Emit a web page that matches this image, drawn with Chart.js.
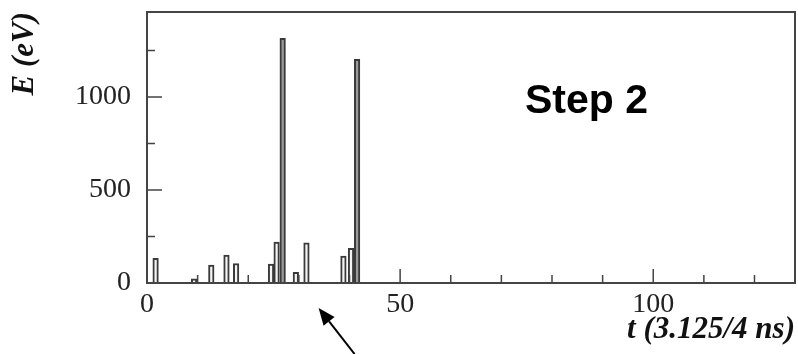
<!DOCTYPE html>
<html>
<head>
<meta charset="utf-8">
<script src="https://cdn.jsdelivr.net/npm/chart.js@4.4.1/dist/chart.umd.min.js"></script>
<style>
  html, body { margin: 0; padding: 0; background: #fff; }
</style>
</head>
<body>
<canvas id="hist" width="798" height="354"></canvas>
<script>
// bin centres (t in 3.125/4 ns units) and deposited energy in eV
const binT = [1.7, 9.3, 12.7, 15.7, 17.6, 24.5, 25.6, 26.8, 29.4, 31.5, 38.8, 40.3, 41.5];
const energy = [133, 22, 97, 150, 105, 102, 220, 1315, 58, 216, 145, 187, 1203];

const xTickLabels = [0, 50, 100];
const xMinorTicks = [10, 20, 30, 40, 60, 70, 80, 90, 110, 120];
const yTickLabels = [0, 500, 1000];
const yMinorTicks = [250, 750, 1250];

const stepLabel = 'Step 2';
const stepLabelAt = [86.8, 914];   // t, E
const arrowFromT = 41;
const arrowToT = 33.9;

const serif = '"Liberation Serif", "Times New Roman", serif';

// frame, inside tick marks, the "Step 2" note and the arrow
const frameAndNotes = {
    id: 'frameAndNotes',
    afterDraw(chart) {
        const { ctx, chartArea: a, scales: { x, y } } = chart;
        ctx.save();
        ctx.strokeStyle = '#444';
        ctx.lineWidth = 2;
        ctx.strokeRect(a.left, a.top, a.right - a.left, a.bottom - a.top);

        ctx.lineWidth = 1.5;
        ctx.beginPath();
        xTickLabels.concat(xMinorTicks).forEach(v => {
            const px = x.getPixelForValue(v);
            const len = xTickLabels.includes(v) ? 14 : 8;
            ctx.moveTo(px, a.bottom);
            ctx.lineTo(px, a.bottom - len);
        });
        yTickLabels.concat(yMinorTicks).forEach(v => {
            const py = y.getPixelForValue(v);
            const len = yTickLabels.includes(v) ? 15 : 8;
            ctx.moveTo(a.left, py);
            ctx.lineTo(a.left + len, py);
        });
        ctx.stroke();

        ctx.font = 'bold 41px "Liberation Sans", Arial, sans-serif';
        ctx.fillStyle = '#000';
        ctx.textAlign = 'center';
        ctx.textBaseline = 'alphabetic';
        ctx.fillText(stepLabel, x.getPixelForValue(stepLabelAt[0]), y.getPixelForValue(stepLabelAt[1]));

        // arrow pointing up-left at the axis
        const x0 = x.getPixelForValue(arrowFromT), y0 = chart.height;
        const x1 = x.getPixelForValue(arrowToT), y1 = a.bottom + 25;
        const ang = Math.atan2(y1 - y0, x1 - x0);
        const headLen = 17, headW = 7;
        const bx = x1 - headLen * Math.cos(ang), by = y1 - headLen * Math.sin(ang);
        ctx.strokeStyle = '#000';
        ctx.lineWidth = 2;
        ctx.beginPath();
        ctx.moveTo(x0, y0);
        ctx.lineTo(bx, by);
        ctx.stroke();
        ctx.beginPath();
        ctx.moveTo(x1, y1);
        ctx.lineTo(bx + headW * Math.sin(ang), by - headW * Math.cos(ang));
        ctx.lineTo(bx - headW * Math.sin(ang), by + headW * Math.cos(ang));
        ctx.closePath();
        ctx.fill();
        ctx.restore();
    }
};

function fixBox(w, h) {
    return scale => {
        if (w) scale.width = w;
        if (h) scale.height = h;
        scale.paddingTop = 0;
        scale.paddingBottom = 0;
        scale.paddingLeft = 0;
        scale.paddingRight = 0;
    };
}

new Chart(document.getElementById('hist'), {
    type: 'bar',
    data: {
        datasets: [{
            data: binT.map((t, i) => ({ x: t, y: energy[i] })),
            backgroundColor: ctx => (ctx.raw && ctx.raw.y > 1000) ? '#9a9a9a' : '#f4f4f4',
            borderColor: '#3a3a3a',
            borderWidth: 2,
            categoryPercentage: 1,
            barPercentage: 1
        }]
    },
    options: {
        responsive: false,
        animation: false,
        layout: { padding: { top: 12, right: 3, left: 0, bottom: 0 } },
        plugins: {
            legend: { display: false },
            tooltip: { enabled: false }
        },
        scales: {
            x: {
                type: 'linear',
                min: 0,
                max: 128,
                offset: false,
                grid: { display: false, drawTicks: false },
                border: { display: false },
                afterBuildTicks: scale => { scale.ticks = xTickLabels.map(v => ({ value: v })); },
                afterFit: fixBox(0, 71),
                ticks: {
                    padding: 5,
                    maxRotation: 0,
                    color: '#222',
                    font: { family: serif, size: 28 },
                    callback: v => String(v)
                },
                title: {
                    display: true,
                    text: 't (3.125/4 ns)',
                    align: 'end',
                    color: '#111',
                    padding: { top: 0, bottom: 5 },
                    font: { family: serif, size: 31, style: 'italic', weight: 'bold' }
                }
            },
            y: {
                min: 0,
                max: 1457,
                grid: { display: false, drawTicks: false },
                border: { display: false },
                afterBuildTicks: scale => { scale.ticks = yTickLabels.map(v => ({ value: v })); },
                afterFit: fixBox(147, 0),
                ticks: {
                    padding: 16,
                    color: '#222',
                    font: { family: serif, size: 28 },
                    callback: v => String(v)
                },
                title: {
                    display: true,
                    text: 'E (eV)',
                    align: 'end',
                    color: '#111',
                    padding: { top: 6, bottom: 0 },
                    font: { family: serif, size: 31, style: 'italic', weight: 'bold' }
                }
            }
        }
    },
    plugins: [frameAndNotes]
});
</script>
</body>
</html>
